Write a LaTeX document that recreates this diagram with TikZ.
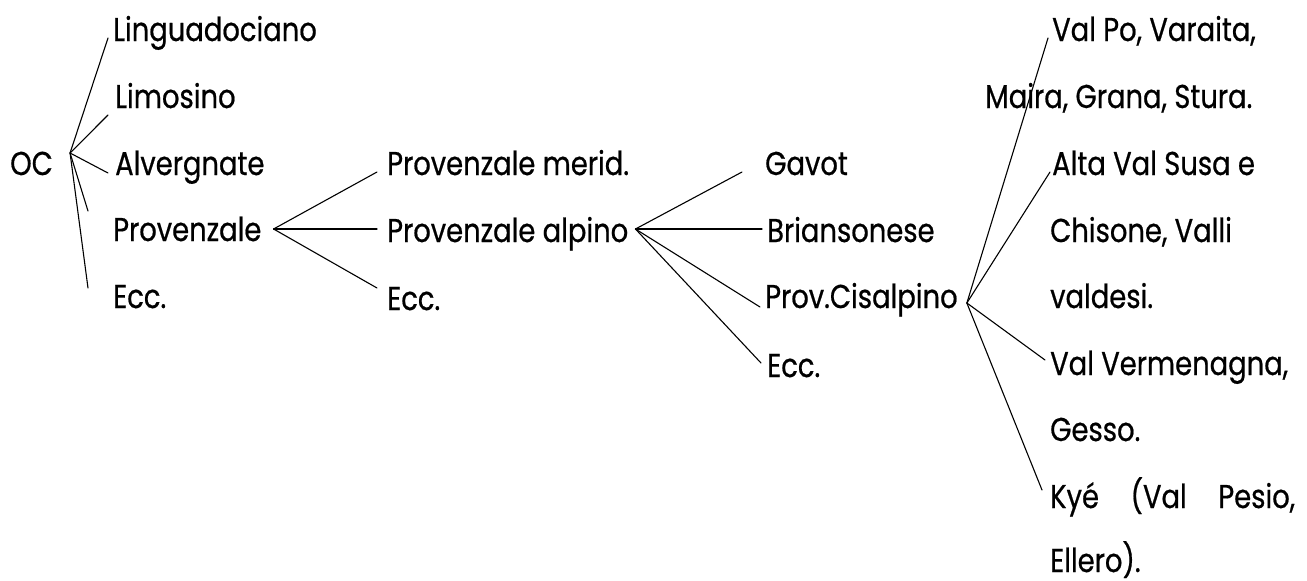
\documentclass[tikz,border=0pt]{standalone}
\usepackage{fontspec}
\setmainfont{Poppins}[FakeStretch=0.83,FakeBold=0.6]
\usetikzlibrary{calc}
\begin{document}
\begin{tikzpicture}[x=1pt,y=-1pt,
  lbl/.style={anchor=base west,inner sep=0pt,font=\fontsize{33}{40}\selectfont},
  br/.style={line width=1.1pt,line cap=round}]
\useasboundingbox (0,0) rectangle (1307,581);
% column 0
\node[lbl] (oc) at (10,175) {OC};
% column 1
\node[lbl] (ling) at (113,41) {Linguadociano};
\node[lbl] (lim) at (115,108) {Limosino};
\node[lbl] (alv) at (115,175) {Alvergnate};
\node[lbl] (prov) at (113,241) {Provenzale};
\node[lbl] (ecca) at (113,308) {Ecc.};
% column 2
\node[lbl] (pm) at (387,175) {Provenzale merid.};
\node[lbl] (pa) at (387,242) {Provenzale alpino};
\node[lbl] (eccb) at (387,310) {Ecc.};
% column 3
\node[lbl] (gav) at (765,175) {Gavot};
\node[lbl] (bri) at (767,242) {Briansonese};
\node[lbl] (cis) at (765,308) {Prov.Cisalpino};
\node[lbl] (eccc) at (767,377) {Ecc.};
% column 4
\node[lbl] (valpo) at (1052,41) {Val Po, Varaita,};
\node[lbl] (maira) at (985,108) {Maira, Grana, Stura.};
\node[lbl] (alta) at (1052,175) {Alta Val Susa e};
\node[lbl] (chis) at (1050,242) {Chisone, Valli};
\node[lbl] (vald) at (1050,308) {valdesi.};
\node[lbl] (verm) at (1050,375) {Val Vermenagna,};
\node[lbl] (gesso) at (1050,441) {Gesso.};
\node[lbl] (kye) at (1050,508) {\makebox[245pt][l]{Kyé\hfill(Val\hfill Pesio,}};
\node[lbl] (ell) at (1050,572) {Ellero).};
% hubs
\coordinate (h0) at ($(oc.base east)+(17,-22)$);
\coordinate (h1) at ($(prov.base east)+(12,-12)$);
\coordinate (h2) at ($(pa.base east)+(7,-13)$);
\coordinate (h3) at ($(cis.base east)+(9,-5)$);
% branches
\draw[br] (h0) -- ($(ling.base west)+(-5,-3)$);
\draw[br] (h0) -- ($(lim.base west)+(-7,7)$);
\draw[br] (h0) -- ($(alv.base west)+(-7,-2)$);
\draw[br] (h0) -- ($(prov.base west)+(-25,-30)$);
\draw[br] (h0) -- ($(ecca.base west)+(-25,-20)$);
\draw[br] (h1) -- ($(pm.base west)+(-10,-3)$);
\draw[br] (h1) -- ($(pa.base west)+(-10,-13)$);
\draw[br] (h1) -- ($(eccb.base west)+(-10,-22)$);
\draw[br] (h2) -- ($(gav.base west)+(-23,-3)$);
\draw[br] (h2) -- ($(bri.base west)+(-5,-13)$);
\draw[br] (h2) -- ($(cis.base west)+(-5,-1)$);
\draw[br] (h2) -- ($(eccc.base west)+(-6,-14)$);
\draw[br] (h3) -- ($(valpo.base west)+(-4,-3)$);
\draw[br] (h3) -- ($(alta.base west)+(-2,-3)$);
\draw[br] (h3) -- ($(verm.base west)+(-5,-15)$);
\draw[br] (h3) -- ($(kye.base west)+(-8,-18)$);
\end{tikzpicture}
\end{document}
